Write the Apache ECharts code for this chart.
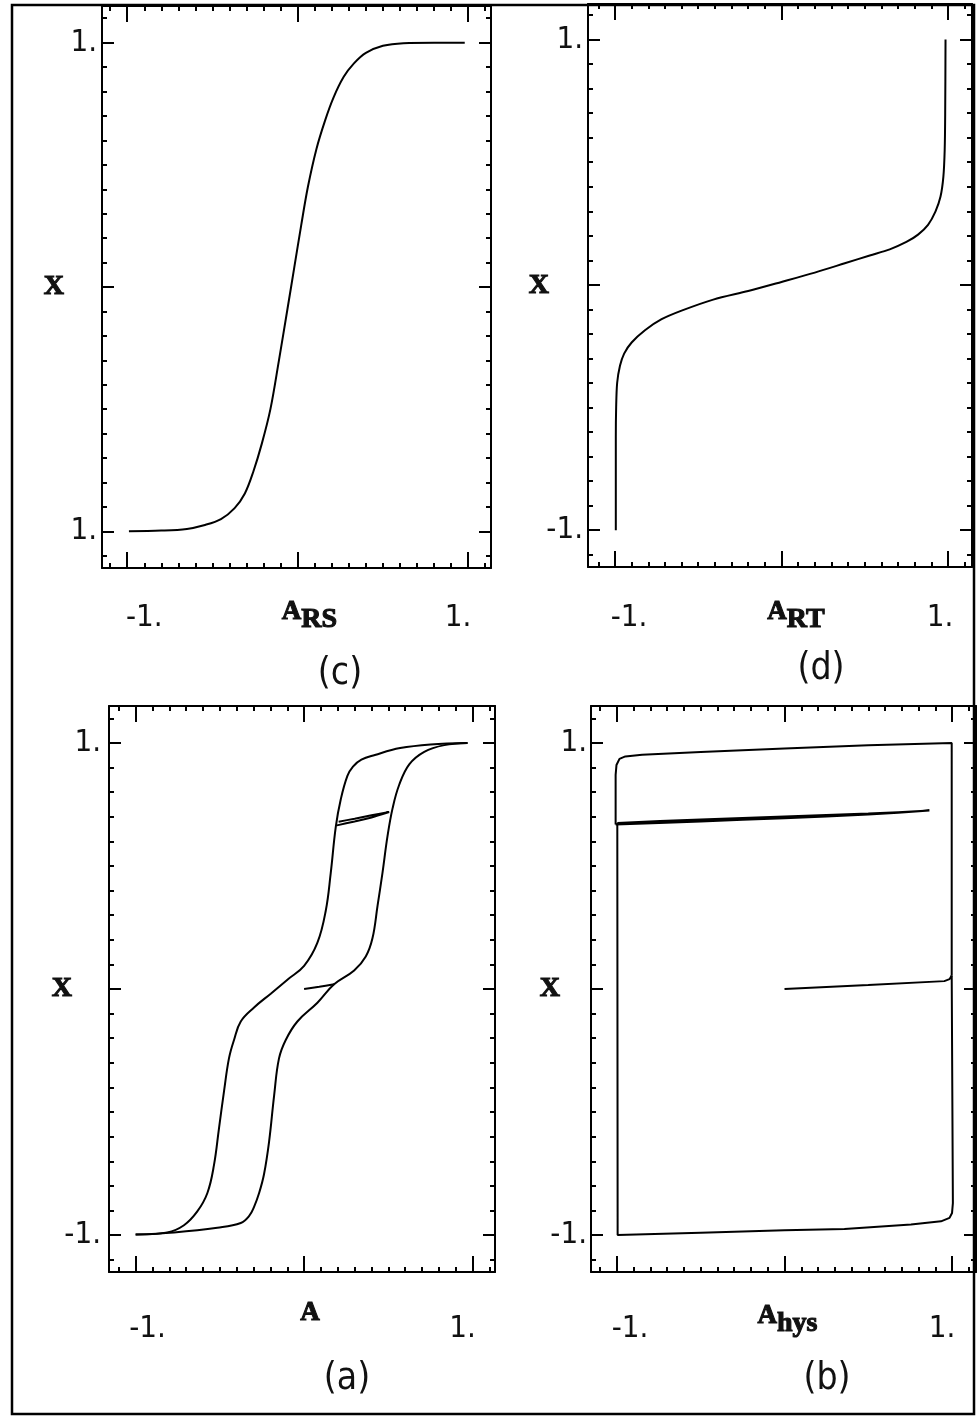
<!DOCTYPE html>
<html>
<head>
<meta charset="utf-8">
<script src="https://cdn.jsdelivr.net/npm/echarts@6/dist/echarts.min.js"></script>
<style>
  html, body { margin: 0; padding: 0; background: #fff; }
  #chart { width: 978px; height: 1416px; }
</style>
</head>
<body>
<div id="chart"></div>
<script>
// Tick positions shared by every panel
const majorTicks = [-1, 0, 1];
const minorTicks = [-1.1, -0.9, -0.8, -0.7, -0.6, -0.5, -0.4, -0.3, -0.2, -0.1,
                    0.1, 0.2, 0.3, 0.4, 0.5, 0.6, 0.7, 0.8, 0.9, 1.1];
const labelTicks = [-1, 1];

// Tick label texts, as printed on each panel
const xTickText = { '-1': '-1.', '1': '1.' };
const yTickText = { '-1': '-1.', '1': '1.' };
const yTickTextC = { '-1': '1.', '1': '1.' };

// (c) X versus A_RS
const rsCurve = [[-0.99,-1.0],[-0.8,-0.997],[-0.65,-0.99],[-0.55,-0.975],[-0.45,-0.95],[-0.37,-0.905],
  [-0.31,-0.845],[-0.26,-0.755],[-0.21,-0.64],[-0.16,-0.50],[-0.11,-0.30],[-0.06,-0.09],[-0.02,0.08],
  [0.02,0.25],[0.06,0.41],[0.11,0.565],[0.16,0.68],[0.21,0.775],[0.27,0.86],[0.33,0.915],[0.40,0.958],
  [0.50,0.987],[0.62,0.998],[0.80,1.0],[0.98,1.0]];

// (d) X versus A_RT
const rtCurve = [[-0.995,-1.0],[-0.995,-0.8],[-0.995,-0.62],[-0.993,-0.5],[-0.987,-0.4],[-0.97,-0.33],
  [-0.945,-0.28],[-0.9,-0.235],[-0.82,-0.185],[-0.72,-0.14],[-0.6,-0.105],[-0.41,-0.06],[-0.2,-0.025],
  [0.0,0.012],[0.2,0.05],[0.38,0.088],[0.53,0.12],[0.65,0.145],[0.75,0.175],[0.82,0.205],[0.88,0.245],
  [0.925,0.3],[0.955,0.36],[0.972,0.44],[0.98,0.55],[0.983,0.7],[0.985,1.0]];

// (a) X versus A: start-up leg, rising and falling branches, inner minor loop
const aInitial = [[0.0,0.0],[0.09,0.009],[0.178,0.019]];
const aRising = [[-1.0,-0.998],[-0.772,-0.989],[-0.515,-0.97],[-0.376,-0.951],[-0.327,-0.923],
  [-0.297,-0.885],[-0.267,-0.829],[-0.238,-0.753],[-0.208,-0.621],[-0.178,-0.433],[-0.149,-0.282],
  [-0.109,-0.207],[-0.04,-0.132],[0.079,-0.056],[0.178,0.019],[0.297,0.075],[0.366,0.132],
  [0.406,0.207],[0.436,0.339],[0.465,0.471],[0.495,0.621],[0.525,0.734],[0.564,0.829],
  [0.624,0.913],[0.713,0.964],[0.832,0.991],[0.97,1.0]];
const aFalling = [[0.97,1.0],[0.75,0.994],[0.57,0.979],[0.42,0.951],[0.34,0.932],[0.29,0.904],
  [0.257,0.866],[0.218,0.772],[0.188,0.659],[0.158,0.471],[0.129,0.32],[0.079,0.188],[0.0,0.094],
  [-0.099,0.038],[-0.198,-0.019],[-0.297,-0.075],[-0.376,-0.132],[-0.416,-0.207],[-0.446,-0.282],
  [-0.475,-0.414],[-0.505,-0.565],[-0.535,-0.716],[-0.574,-0.829],[-0.634,-0.904],[-0.713,-0.96],
  [-0.812,-0.989],[-1.0,-0.998]];
const aMinorLoop = [[0.195,0.665],[0.30,0.681],[0.40,0.697],[0.505,0.719],[0.40,0.706],[0.30,0.692],[0.205,0.68]];

// (b) X versus A_hys: start-up leg, upper sweep, minor loop, lower sweep
const hysInitial = [[0.0,0.0],[0.5,0.016],[0.954,0.032],[0.985,0.04],[0.998,0.055]];
const hysUpperSweep = [[0.998,0.055],[0.998,1.0],[0.5,0.99],[0.0,0.977],[-0.5,0.963],[-0.85,0.952],
  [-0.95,0.945],[-0.985,0.935],[-1.003,0.91],[-1.008,0.87],[-1.008,0.668]];
const hysMinorLoop = [[-1.008,0.668],[-0.5,0.681],[0.0,0.694],[0.5,0.709],[0.865,0.725],[0.5,0.713],
  [0.0,0.701],[-0.5,0.689],[-0.998,0.675]];
const hysLowerSweep = [[-0.998,0.675],[-0.996,-1.0],[-0.5,-0.99],[0.0,-0.98],[0.358,-0.975],
  [0.755,-0.957],[0.934,-0.944],[0.985,-0.93],[1.0,-0.91],[1.005,-0.87],[0.998,0.055]];

const numFont = '"Liberation Sans Narrow", "DejaVu Sans Condensed", sans-serif';
const serifFont = '"Liberation Serif", "DejaVu Serif", serif';
const ink = '#111';

const panels = [
  { left: 102, top: 6, width: 389, height: 562, x: [-1.148, 1.134], y: [-1.15, 1.15],
    yText: yTickTextC, xLabelMargin: 35, shiftLo: 17, shiftHi: -10, yLabelMargin: 5,
    xName: '{cap|A}{sub|RS}', xNameGap: 31, xNameShift: 13, yNameGap: 38,
    tag: '(c)', tagPos: [340, 674],
    series: [{ data: rsCurve, smooth: 0.35 }] },
  { left: 588, top: 4, width: 384, height: 563, x: [-1.162, 1.144], y: [-1.15, 1.145],
    yText: yTickText, xLabelMargin: 36, shiftLo: 14, shiftHi: -8, yLabelMargin: 5,
    xName: '{cap|A}{sub|RT}', xNameGap: 32, xNameShift: 16, yNameGap: 39,
    tag: '(d)', tagPos: [821, 669],
    series: [{ data: rtCurve, smooth: 0.3 }] },
  { left: 109, top: 706, width: 386, height: 566, x: [-1.158, 1.133], y: [-1.15, 1.15],
    yText: yTickText, xLabelMargin: 42, shiftLo: 12, shiftHi: -10, yLabelMargin: 8,
    xName: '{cap|A}', xNameGap: 28, xNameShift: 8, yNameGap: 37,
    tag: '(a)', tagPos: [347, 1379],
    series: [{ data: aInitial, smooth: 0.3 }, { data: aRising, smooth: 0.4 },
             { data: aFalling, smooth: 0.4 }, { data: aMinorLoop, smooth: 0.2 }] },
  { left: 591, top: 706, width: 385, height: 566, x: [-1.155, 1.143], y: [-1.15, 1.15],
    yText: yTickText, xLabelMargin: 42, shiftLo: 13, shiftHi: -10, yLabelMargin: 4,
    xName: '{cap|A}{sub|hys}', xNameGap: 31, xNameShift: 4, yNameGap: 31,
    tag: '(b)', tagPos: [827, 1379],
    series: [{ data: hysInitial, smooth: false }, { data: hysUpperSweep, smooth: false },
             { data: hysMinorLoop, smooth: 0.15 }, { data: hysLowerSweep, smooth: false }] }
];

const grids = [], xAxes = [], yAxes = [], series = [], graphics = [];

const tickStyle = { color: '#000', width: 2 };
const frameLine = { show: true, onZero: false, lineStyle: { color: '#000', width: 2 } };
const noLine = { show: false, onZero: false };
const boldInk = { textBorderColor: ink, textBorderWidth: 1.1 };
const nameRich = {
  cap: Object.assign({ fontFamily: serifFont, fontWeight: 'bold', fontSize: 27, lineHeight: 26, verticalAlign: 'top', color: ink }, boldInk),
  sub: Object.assign({ fontFamily: serifFont, fontWeight: 'bold', fontSize: 28, lineHeight: 35, verticalAlign: 'bottom', color: ink }, boldInk)
};

panels.forEach((p, gi) => {
  grids.push({ left: p.left, top: p.top, width: p.width, height: p.height, containLabel: false, outerBoundsMode: 'none' });

  const xBase = { type: 'value', gridIndex: gi, min: p.x[0], max: p.x[1], splitLine: { show: false } };
  const yBase = { type: 'value', gridIndex: gi, min: p.y[0], max: p.y[1], splitLine: { show: false } };
  const xMain = xAxes.length;
  const yMain = yAxes.length;

  // bottom axis: long ticks at -1, 0, 1 with end labels and the axis title
  xAxes.push(Object.assign({}, xBase, {
    position: 'bottom',
    axisLine: frameLine,
    axisTick: { show: true, inside: true, length: 16, customValues: majorTicks, lineStyle: tickStyle },
    axisLabel: {
      show: true, customValues: labelTicks, margin: p.xLabelMargin, color: ink,
      formatter: v => (v < 0 ? '{lo|' : '{hi|') + xTickText[String(v)] + '}',
      rich: {
        lo: { fontFamily: numFont, fontSize: 31, lineHeight: 30, color: ink, padding: [0, 0, 0, p.shiftLo * 2] },
        hi: { fontFamily: numFont, fontSize: 31, lineHeight: 30, color: ink, padding: [0, -p.shiftHi * 2, 0, 0] }
      }
    },
    name: p.xName, nameLocation: 'middle', nameGap: p.xNameGap, nameMoveOverlap: false,
    nameTextStyle: { rich: nameRich, padding: [0, 0, 0, p.xNameShift * 2] }
  }));
  // bottom axis: short ticks every 0.1
  xAxes.push(Object.assign({}, xBase, {
    position: 'bottom', axisLine: noLine,
    axisTick: { show: true, inside: true, length: 5, customValues: minorTicks, lineStyle: tickStyle },
    axisLabel: { show: false }
  }));
  // top axis
  xAxes.push(Object.assign({}, xBase, {
    position: 'top', axisLine: frameLine,
    axisTick: { show: true, inside: true, length: 16, customValues: majorTicks, lineStyle: tickStyle },
    axisLabel: { show: false }
  }));
  xAxes.push(Object.assign({}, xBase, {
    position: 'top', axisLine: noLine,
    axisTick: { show: true, inside: true, length: 5, customValues: minorTicks, lineStyle: tickStyle },
    axisLabel: { show: false }
  }));

  // left axis with end labels and the X title
  yAxes.push(Object.assign({}, yBase, {
    position: 'left',
    axisLine: frameLine,
    axisTick: { show: true, inside: true, length: 12, customValues: majorTicks, lineStyle: tickStyle },
    axisLabel: {
      show: true, customValues: labelTicks, margin: p.yLabelMargin, color: ink,
      fontFamily: numFont, fontSize: 31, lineHeight: 30,
      formatter: v => p.yText[String(v)]
    },
    name: 'X', nameLocation: 'middle', nameGap: p.yNameGap, nameRotate: 0, nameMoveOverlap: false,
    nameTextStyle: Object.assign({ fontFamily: serifFont, fontWeight: 'bold', fontSize: 28, color: ink }, boldInk)
  }));
  yAxes.push(Object.assign({}, yBase, {
    position: 'left', axisLine: noLine,
    axisTick: { show: true, inside: true, length: 5, customValues: minorTicks, lineStyle: tickStyle },
    axisLabel: { show: false }
  }));
  // right axis
  yAxes.push(Object.assign({}, yBase, {
    position: 'right', axisLine: frameLine,
    axisTick: { show: true, inside: true, length: 12, customValues: majorTicks, lineStyle: tickStyle },
    axisLabel: { show: false }
  }));
  yAxes.push(Object.assign({}, yBase, {
    position: 'right', axisLine: noLine,
    axisTick: { show: true, inside: true, length: 5, customValues: minorTicks, lineStyle: tickStyle },
    axisLabel: { show: false }
  }));

  p.series.forEach(s => {
    series.push({
      type: 'line', xAxisIndex: xMain, yAxisIndex: yMain, data: s.data,
      smooth: s.smooth, showSymbol: false, symbol: 'none', clip: false,
      lineStyle: { color: '#000', width: 2 }, z: 3
    });
  });

  graphics.push({
    type: 'text', x: p.tagPos[0], y: p.tagPos[1],
    style: { text: p.tag, fontFamily: numFont, fontSize: 37, fill: ink, textAlign: 'center', textVerticalAlign: 'middle' }
  });
});

// outer frame of the figure
graphics.push({
  type: 'rect', shape: { x: 12, y: 5, width: 962, height: 1409 },
  style: { fill: 'none', stroke: '#000', lineWidth: 2.5 }, z: 10
});

const chart = echarts.init(document.getElementById('chart'), null, { renderer: 'canvas' });
chart.setOption({
  animation: false,
  backgroundColor: '#fff',
  grid: grids,
  xAxis: xAxes,
  yAxis: yAxes,
  series: series,
  graphic: graphics
});
</script>
</body>
</html>
